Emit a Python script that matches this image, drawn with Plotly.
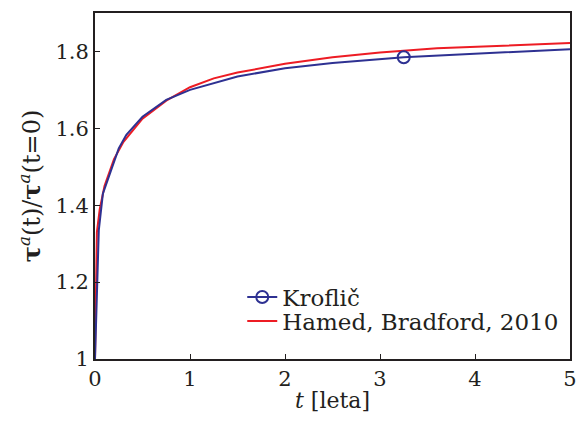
import plotly.graph_objects as go

# Kroflič model: time [years] and normalised stress ratio
t_kroflic = [0, 0.04, 0.083, 0.25, 0.33, 0.5, 0.75, 1.0, 1.5, 2.0, 2.5, 3.25, 5.0]
r_kroflic = [1.0, 1.335, 1.43, 1.548, 1.583, 1.63, 1.674, 1.70, 1.735, 1.756, 1.770, 1.785, 1.806]

# Hamed & Bradford (2010)
t_hamed = [0, 0.02, 0.05, 0.1, 0.2, 0.3, 0.5, 0.75, 1.0, 1.25, 1.5, 1.75, 2.0, 2.5, 3.0, 3.6, 4.0, 5.0]
r_hamed = [1.0, 1.33, 1.39, 1.45, 1.52, 1.565, 1.625, 1.672, 1.707, 1.73, 1.745, 1.757, 1.768,
           1.785, 1.797, 1.808, 1.812, 1.822]

# single marker placed on the Kroflič curve
marker_idx = 11

x_ticks = [0, 1, 2, 3, 4, 5]
y_ticks = [1.0, 1.2, 1.4, 1.6, 1.8]
y_ticktext = ["1", "1.2", "1.4", "1.6", "1.8"]

BLUE = "#2e3192"
RED = "#ed1c24"
INK = "#231f20"
FONT = "DejaVu Serif, Liberation Serif, serif"

fig = go.Figure()

# Hamed curve first so the Kroflič curve sits on top
fig.add_trace(go.Scatter(
    x=t_hamed, y=r_hamed, mode="lines",
    line=dict(color=RED, width=2), showlegend=False))
fig.add_trace(go.Scatter(
    x=t_kroflic, y=r_kroflic, mode="lines",
    line=dict(color=BLUE, width=2), showlegend=False))
fig.add_trace(go.Scatter(
    x=[t_kroflic[marker_idx]], y=[r_kroflic[marker_idx]], mode="markers",
    marker=dict(symbol="circle-open", size=12, color=BLUE, line=dict(width=2)),
    showlegend=False))

# legend entries, one legend box per row for tight spacing
fig.add_trace(go.Scatter(
    x=[None], y=[None], mode="lines+markers", name="Kroflič",
    line=dict(color=BLUE, width=2),
    marker=dict(symbol="circle-open", size=12, color=BLUE, line=dict(width=2)),
    legend="legend"))
fig.add_trace(go.Scatter(
    x=[None], y=[None], mode="lines", name="Hamed, Bradford, 2010",
    line=dict(color=RED, width=2), legend="legend2"))

axis_common = dict(
    showline=True, linecolor=INK, linewidth=2, mirror=True,
    ticks="inside", ticklen=5, tickwidth=1, tickcolor=INK,
    showgrid=False, zeroline=False, automargin=False,
    tickfont=dict(family=FONT, size=21, color=INK),
)

legend_common = dict(
    x=0.31, xanchor="left", yanchor="middle",
    bgcolor="rgba(0,0,0,0)", borderwidth=0,
    font=dict(family=FONT, size=23, color=INK),
    itemwidth=30,
)

fig.update_layout(
    width=577, height=421,
    margin=dict(l=95, r=7, t=13, b=62),
    paper_bgcolor="white", plot_bgcolor="white",
    font=dict(family=FONT, color=INK),
    xaxis=dict(range=[0, 5], tickvals=x_ticks, ticktext=[str(v) for v in x_ticks],
               title=dict(text="<i>t</i> [leta]", font=dict(family=FONT, size=22), standoff=2),
               **axis_common),
    yaxis=dict(range=[1, 1.9], tickvals=y_ticks, ticktext=y_ticktext,
               title=dict(text="<b>τ</b><sup><i>a</i></sup>(t)/<b>τ</b><sup><i>a</i></sup>(t=0)",
                          font=dict(family=FONT, size=24), standoff=8),
               **axis_common),
    legend=dict(y=0.179, **legend_common),
    legend2=dict(y=0.110, **legend_common),
)

fig.write_html("out.html")
